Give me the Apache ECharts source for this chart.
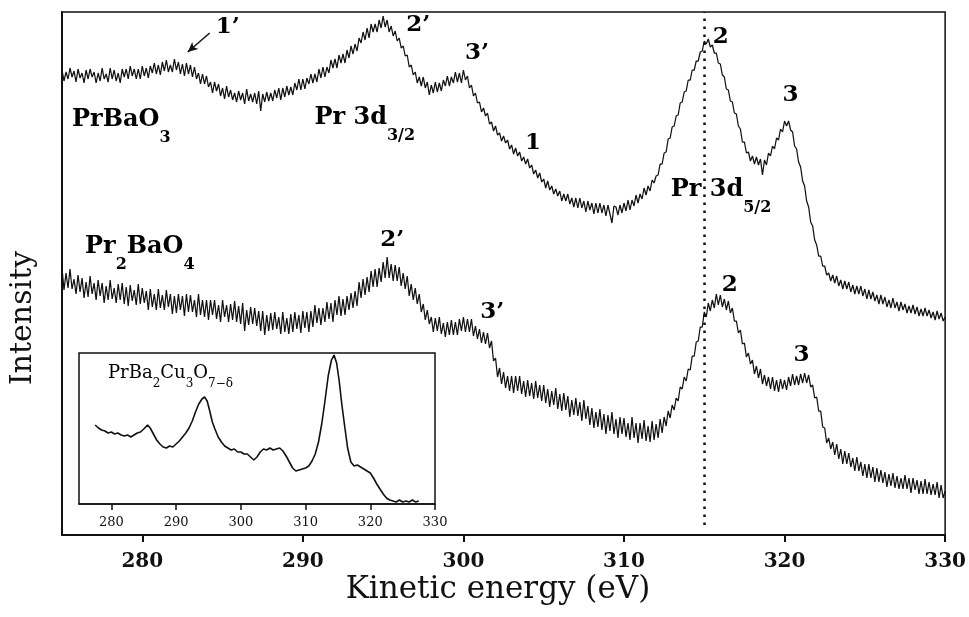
<!DOCTYPE html>
<html>
<head>
<meta charset="utf-8">
<script src="https://cdn.jsdelivr.net/npm/echarts@6/dist/echarts.min.js"></script>
<style>
  html, body { margin: 0; padding: 0; background: #fff; }
  #chart { width: 969px; height: 617px; }
</style>
</head>
<body>
<div id="chart"></div>
<script>
// Kinetic-energy grid of the two main spectra (eV)
const energyStart = 275;
const energyStep = 0.125;

// PrBaO3 spectrum, arbitrary intensity units (one row per eV, 0.125 eV steps)
const prBaO3 = [
  465,454,463,456,467,458,464,453, 466,457,462,452,465,456,466,458,
  463,452,462,454,467,456,461,453, 467,456,465,454,462,452,466,458,
  466,456,469,459,466,456,466,456, 469,459,467,457,469,462,472,461,
  470,460,473,464,475,463,470,463, 476,465,473,461,471,459,472,461,
  470,458,468,456,462,451,461,451, 459,448,453,442,453,444,451,439,
  447,436,449,438,445,435,442,433, 444,435,442,431,446,434,441,433,
  442,431,444,424,441,433,443,434, 442,434,445,437,447,435,447,438,
  449,440,448,440,452,445,456,445, 456,446,457,451,461,452,461,453,
  466,457,468,458,468,462,475,467, 476,467,480,472,481,472,485,477,
  489,481,491,484,497,492,503,495, 507,497,511,503,511,503,515,507,
  519,508,515,503,509,499,504,494, 497,487,489,479,480,468,470,460,
  463,452,458,449,458,447,453,440, 450,442,453,443,452,444,455,449,
  459,449,458,452,463,453,462,452, 465,455,459,447,450,439,442,432,
  433,423,427,419,422,411,413,404, 409,400,402,394,399,392,395,386,
  390,381,387,379,383,374,378,371, 376,367,370,361,365,357,362,353,
  356,347,354,345,349,341,346,339, 344,334,341,334,341,331,337,328,
  337,327,337,327,334,323,334,325, 332,321,332,322,332,322,330,319,
  330,321,312,329,328,320,330,322, 332,324,335,325,335,329,340,332,
  341,336,347,340,349,344,355,352, 359,360,371,371,382,383,396,397,
  408,409,419,420,432,433,443,444, 455,455,465,465,474,474,483,484,
  494,491,496,488,490,482,482,472, 471,460,458,446,445,434,433,422,
  421,409,406,393,393,382,383,374, 379,371,378,370,376,360,375,370,
  382,379,389,386,397,395,406,403, 414,409,414,405,403,389,386,373,
  368,354,349,334,328,313,309,295, 290,279,279,269,269,260,262,254,
  260,252,259,249,255,246,254,246, 253,243,250,241,249,241,249,239,
  246,236,245,236,243,234,240,231, 240,231,238,228,235,227,237,227,
  233,224,233,225,231,222,229,222, 230,221,228,219,226,219,227,219,
  225,217,223,215,224,216,222,214,
  218
];

// Pr2BaO4 spectrum, same grid and units
const pr2BaO4 = [
  267,245,262,247,266,246,256,241, 260,243,257,237,253,238,259,241,
  252,235,255,239,252,232,249,235, 255,236,247,232,251,235,252,231,
  248,229,250,234,245,230,251,231, 247,232,244,225,246,228,241,225,
  246,227,240,225,245,228,241,221, 239,222,241,225,239,219,241,223,
  240,223,235,218,241,220,235,218, 235,215,235,220,235,216,230,213,
  235,218,230,213,231,215,234,213, 229,211,232,204,225,210,228,211,
  227,209,224,204,224,200,220,204, 222,205,223,206,218,201,223,203,
  217,201,221,203,223,206,220,202, 224,207,223,203,224,208,230,212,
  227,210,227,213,233,216,232,213, 235,220,239,219,236,220,239,225,
  242,227,244,229,253,237,256,240, 258,243,264,248,266,248,267,253,
  273,257,278,257,271,254,270,254, 268,249,262,246,259,239,251,235,
  247,231,241,223,231,215,225,211, 218,203,217,204,218,201,212,198,
  213,200,215,200,213,200,216,204, 218,203,216,203,216,199,209,196,
  206,192,203,191,202,187,194,174, 177,158,167,151,163,147,159,144,
  159,142,159,144,159,141,154,138, 155,139,152,136,154,137,150,134,
  150,132,146,128,144,130,147,126, 141,124,142,125,139,118,135,120,
  137,119,133,114,135,116,129,110, 127,107,123,108,126,105,121,101,
  120,104,123,101,116,97,118,101, 117,98,112,95,118,97,112,92,
  112,96,115,94,109,93,114,95, 111,97,116,102,118,109,124,117,
  130,125,137,134,148,146,158,154, 166,165,179,179,193,194,208,208,
  223,218,232,224,235,227,241,230, 240,228,236,225,234,222,227,214,
  214,202,205,191,192,178,182,171, 175,161,169,157,166,151,160,149,
  158,146,158,144,155,143,156,146, 155,145,158,149,161,150,159,150,
  161,152,162,152,160,148,150,137, 138,124,124,108,107,92,97,86,
  93,80,91,76,86,71,84,71, 82,68,77,64,78,64,73,59,
  71,57,71,57,68,53,67,53, 65,52,63,48,61,49,62,47,
  59,46,57,46,60,46,57,42, 57,45,55,41,54,41,56,41,
  53,40,51,40,53,37,50,37,
  44
];

// PrBa2Cu3O7-d spectrum shown in the inset
const insetEnergy = [
  277.5,278,278.5,279,279.5,280,280.5,281,281.5,282,282.5,283,283.5,284,284.5,285,285.6,286,286.5,287,
  287.5,288,288.5,289,289.5,290,290.5,291,291.5,292,292.5,293,293.5,294,294.4,294.8,295.2,295.6,296,296.5,
  297,297.5,298,298.5,299,299.5,300,300.5,301,301.5,302,302.5,303,303.5,304,304.5,305,305.5,306,306.5,
  307,307.5,308,308.5,309,309.5,310,310.5,311,311.5,312,312.5,313,313.5,314,314.4,314.8,315.2,315.6,316,
  316.5,317,317.5,318,318.5,319,319.5,320,320.5,321,321.5,322,322.5,323,323.5,324,324.5,325,325.5,326,
  326.5,327,327.5
];
const insetIntensity = [
  79,76,74,73,71,72,70,71,69,68,69,67,69,71,72,75,79,76,70,64,
  60,57,56,58,57,60,63,67,71,76,83,92,100,105,107,103,93,82,75,67,
  62,58,56,54,55,52,52,50,50,47,44,47,52,55,54,56,54,55,56,53,
  48,42,36,33,34,35,36,38,43,50,62,80,103,128,144,149,141,123,100,80,
  56,42,38,39,37,35,33,31,26,20,15,10,6,4,3,2,4,2,3,2,
  4,2,3
];

// Axis tick values
const mainTicks = [280, 290, 300, 310, 320, 330];
const insetTicks = [280, 290, 300, 310, 320, 330];

// Pr 3d5/2 reference energy (dotted line)
const refEnergy = 315;

// Peak and compound labels: [rich text, energy, intensity, horizontal anchor]
const peakLabels = [
  ['{n|1’}', 285.32, 508, 'center'],
  ['{n|2’}', 297.19, 510, 'center'],
  ['{n|3’}', 300.85, 482, 'center'],
  ['{n|1}', 304.33, 392, 'center'],
  ['{n|2}', 316.02, 498, 'center'],
  ['{n|3}', 320.37, 440, 'center'],
  ['{m|PrBaO}{s|3}', 275.62, 415, 'left'],
  ['{m|Pr 3d}{s|3/2}', 290.72, 417, 'left'],
  ['{m|Pr 3d}{s|5/2}', 312.91, 345, 'left'],
  ['{m|Pr}{s|2}{m|BaO}{s|4}', 276.43, 288, 'left'],
  ['{n|2’}', 295.57, 295, 'center'],
  ['{n|3’}', 301.79, 223, 'center'],
  ['{n|2}', 316.58, 250, 'center'],
  ['{n|3}', 321.05, 180, 'center']
];
const insetLabel = ['{m|PrBa}{s|2}{m|Cu}{s|3}{m|O}{s|7−δ}', 279.48, 131];

const serif = '"DejaVu Serif", "Liberation Serif", serif';
const ink = '#111';

function pairs(values) {
  return values.map((v, i) => [energyStart + i * energyStep, v]);
}

const chart = echarts.init(document.getElementById('chart'), null, { renderer: 'canvas' });

const lineStyle = { color: ink, width: 1.25 };

chart.setOption({
  animation: false,
  backgroundColor: '#fff',
  grid: [
    { left: 62, top: 12, right: 22, bottom: 82, show: true, borderColor: ink, borderWidth: 1.5, backgroundColor: 'transparent' },
    { left: 79, top: 353, width: 356, height: 151, show: true, borderColor: ink, borderWidth: 1.5, backgroundColor: '#fff' }
  ],
  xAxis: [
    {
      type: 'value', gridIndex: 0, min: 275, max: 330,
      axisLine: { onZero: false, lineStyle: { color: ink, width: 2 } },
      axisTick: { show: true, inside: false, length: 7, customValues: mainTicks, lineStyle: { color: ink, width: 2 } },
      axisLabel: { customValues: mainTicks, fontFamily: serif, fontWeight: 'bold', fontSize: 20, color: ink, margin: 17 },
      splitLine: { show: false }
    },
    {
      type: 'value', gridIndex: 1, min: 275, max: 330,
      axisLine: { onZero: false, lineStyle: { color: ink, width: 1.5 } },
      axisTick: { show: true, inside: false, length: 6, customValues: insetTicks, lineStyle: { color: ink, width: 1.5 } },
      axisLabel: { customValues: insetTicks, fontFamily: serif, fontSize: 13, color: ink, margin: 12 },
      splitLine: { show: false }
    }
  ],
  yAxis: [
    {
      type: 'value', gridIndex: 0, min: 0, max: 523,
      axisLine: { show: true, onZero: false, lineStyle: { color: ink, width: 2 } },
      axisTick: { show: false }, axisLabel: { show: false }, splitLine: { show: false }
    },
    {
      type: 'value', gridIndex: 1, min: 0, max: 151,
      axisLine: { show: false }, axisTick: { show: false }, axisLabel: { show: false }, splitLine: { show: false }
    }
  ],
  series: [
    {
      name: 'PrBaO3', type: 'line', xAxisIndex: 0, yAxisIndex: 0,
      data: pairs(prBaO3), showSymbol: false, lineStyle: lineStyle, z: 3,
      markLine: {
        silent: true, animation: false, label: { show: false },
        data: [
          [{ coord: [refEnergy, 10], symbol: 'none' }, { coord: [refEnergy, 523], symbol: 'none' }],
          [{ coord: [284.2, 502], symbol: 'none', lineStyle: { type: 'solid', width: 1.5 } },
           { coord: [282.83, 483], symbol: 'arrow', symbolSize: [7, 10], lineStyle: { type: 'solid', width: 1.5 } }]
        ],
        lineStyle: { color: ink, type: [2.5, 5.5], width: 2.5 }
      }
    },
    {
      name: 'Pr2BaO4', type: 'line', xAxisIndex: 0, yAxisIndex: 0,
      data: pairs(pr2BaO4), showSymbol: false, lineStyle: lineStyle, z: 3
    },
    {
      name: 'PrBa2Cu3O7', type: 'line', xAxisIndex: 1, yAxisIndex: 1,
      data: insetEnergy.map((e, i) => [e, insetIntensity[i]]),
      showSymbol: false, lineStyle: { color: ink, width: 1.6 }, z: 4
    }
  ]
});

// Text placed at data positions
const nameRich = {
  m: { fontFamily: serif, fontWeight: 'bold', fontSize: 24, color: ink, lineHeight: 52, verticalAlign: 'middle' },
  s: { fontFamily: serif, fontWeight: 'bold', fontSize: 16, color: ink, verticalAlign: 'bottom' },
  n: { fontFamily: serif, fontWeight: 'bold', fontSize: 23, color: ink }
};
const insetRich = {
  m: { fontFamily: serif, fontSize: 18, color: ink, lineHeight: 33, verticalAlign: 'middle' },
  s: { fontFamily: serif, fontSize: 12, color: ink, verticalAlign: 'bottom' }
};

const graphics = peakLabels.map(([text, e, v, align]) => {
  const p = chart.convertToPixel({ gridIndex: 0 }, [e, v]);
  return {
    type: 'text', x: p[0], y: p[1], silent: true, z: 10,
    style: { text: text, rich: nameRich, align: align, verticalAlign: 'middle' }
  };
});
const ip = chart.convertToPixel({ gridIndex: 1 }, [insetLabel[1], insetLabel[2]]);
graphics.push({
  type: 'text', x: ip[0], y: ip[1], silent: true, z: 10,
  style: { text: insetLabel[0], rich: insetRich, align: 'left', verticalAlign: 'middle' }
});

// Axis titles
graphics.push({
  type: 'text', x: 498, y: 590, silent: true,
  style: { text: 'Kinetic energy (eV)', fontFamily: serif, fontSize: 31, fill: ink, align: 'center', verticalAlign: 'middle' }
});
graphics.push({
  type: 'text', x: 23, y: 318, rotation: Math.PI / 2, silent: true,
  style: { text: 'Intensity', fontFamily: serif, fontSize: 30, fill: ink, align: 'center', verticalAlign: 'middle' }
});

chart.setOption({ graphic: graphics });
</script>
</body>
</html>
